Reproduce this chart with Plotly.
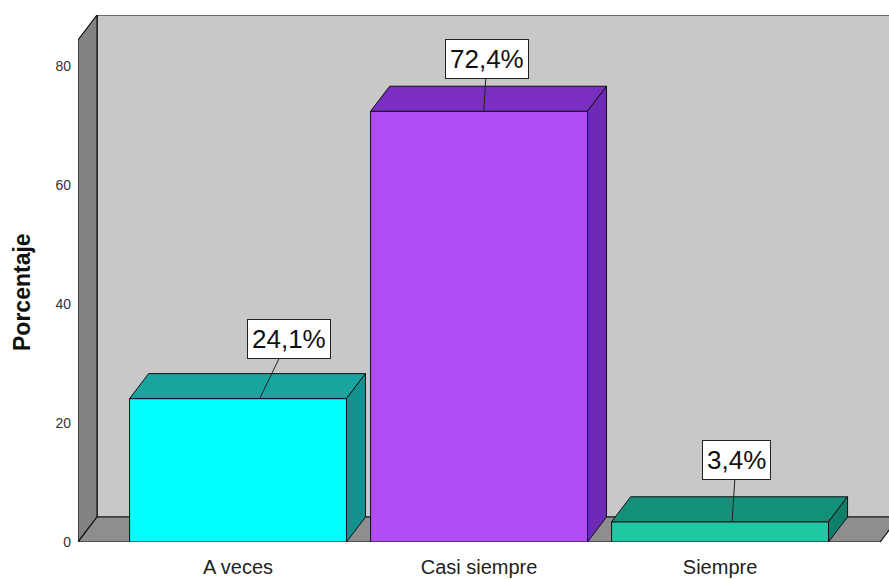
import plotly.graph_objects as go

# ---- data ----
categories = ["A veces", "Casi siempre", "Siempre"]
values = [24.1, 72.4, 3.4]
labels = ["24,1%", "72,4%", "3,4%"]
y_ticks = [0, 20, 40, 60, 80]

# ---- styles ----
front_colors = ["#00FFFF", "#B24CF6", "#1FC8A2"]
top_colors = ["#1AA4A0", "#7A2EC2", "#14907A"]
side_colors = ["#12918E", "#6E2AB4", "#0F7F6A"]
label_offsets = [(29, -60), (3, -52), (4, -62)]   # pixel offsets of label boxes
label_xshift = [0.09, 0.02, 0.05]                 # where leader line meets the bar

FONT = "Liberation Sans, Arial, sans-serif"
bar_w = 0.9
dx, dy = 0.079, 4.2            # 3D depth in axis units
x_min, x_max = -0.664, 2.701
y_max = 88.57
x_floor_right = 2.664
y_front_top = y_max - dy

fig = go.Figure()

fig.add_trace(go.Bar(
    x=list(range(len(categories))), y=values, width=bar_w,
    marker=dict(color=front_colors, line=dict(color="#111111", width=1)),
    hoverinfo="skip", showlegend=False,
))

shapes = []
# back wall
shapes.append(dict(type="rect", xref="x", yref="y", layer="below",
                   x0=x_min + dx, x1=x_max + 1, y0=dy, y1=y_max,
                   fillcolor="#C8C8C8", line=dict(color="#111111", width=1.2)))
# left side wall
shapes.append(dict(type="path", xref="x", yref="y", layer="below",
                   path=f"M {x_min},0 L {x_min},{y_front_top} L {x_min+dx},{y_max} L {x_min+dx},{dy} Z",
                   fillcolor="#838383", line=dict(color="#111111", width=1.2)))
# floor
shapes.append(dict(type="path", xref="x", yref="y", layer="below",
                   path=f"M {x_min},0 L {x_floor_right},0 L {x_floor_right+dx},{dy} L {x_min+dx},{dy} Z",
                   fillcolor="#8E8E8E", line=dict(color="#111111", width=1.2)))

# bar tops and sides
for i, v in enumerate(values):
    xl, xr = i - bar_w / 2, i + bar_w / 2
    shapes.append(dict(type="path", xref="x", yref="y", layer="above",
                       path=f"M {xl},{v} L {xr},{v} L {xr+dx},{v+dy} L {xl+dx},{v+dy} Z",
                       fillcolor=top_colors[i], line=dict(color="#111111", width=1)))
    shapes.append(dict(type="path", xref="x", yref="y", layer="above",
                       path=f"M {xr},0 L {xr+dx},{dy} L {xr+dx},{v+dy} L {xr},{v} Z",
                       fillcolor=side_colors[i], line=dict(color="#111111", width=1)))

annotations = []
for i, v in enumerate(values):
    ax, ay = label_offsets[i]
    annotations.append(dict(
        x=i + label_xshift[i], y=v, xref="x", yref="y", text=labels[i],
        showarrow=True, arrowhead=0, arrowwidth=1, arrowcolor="#222222",
        ax=ax, ay=ay, standoff=0,
        bgcolor="white", bordercolor="#222222", borderwidth=1, borderpad=4,
        font=dict(family=FONT, size=26, color="#111111"),
    ))

annotations.append(dict(
    text="<b>Porcentaje</b>", xref="paper", yref="paper",
    x=(22 - 78) / 811, y=(542 - 292) / 527, xanchor="center", yanchor="middle",
    textangle=-90, showarrow=False,
    font=dict(family=FONT, size=23, color="#111111"),
))

fig.update_layout(
    width=889, height=579,
    margin=dict(l=78, r=0, t=15, b=37, pad=0),
    paper_bgcolor="white", plot_bgcolor="white",
    shapes=shapes, annotations=annotations,
    bargap=0, showlegend=False,
    xaxis=dict(range=[x_min, x_max], tickmode="array",
               tickvals=list(range(len(categories))), ticktext=categories,
               showgrid=False, zeroline=False, showline=False, ticks="",
               tickfont=dict(family=FONT, size=20, color="#222222"),
               ticklabelstandoff=11, fixedrange=True),
    yaxis=dict(range=[0, y_max], tickmode="array", tickvals=y_ticks,
               ticktext=[str(t) for t in y_ticks],
               showgrid=False, zeroline=False, showline=False, ticks="",
               tickfont=dict(family=FONT, size=14, color="#333333"),
               ticklabelstandoff=6, fixedrange=True),
)

fig.write_html(
    "out.html",
    config={"displayModeBar": False, "staticPlot": True},
    post_script="document.body.style.margin='0';document.body.style.overflow='hidden';",
)
